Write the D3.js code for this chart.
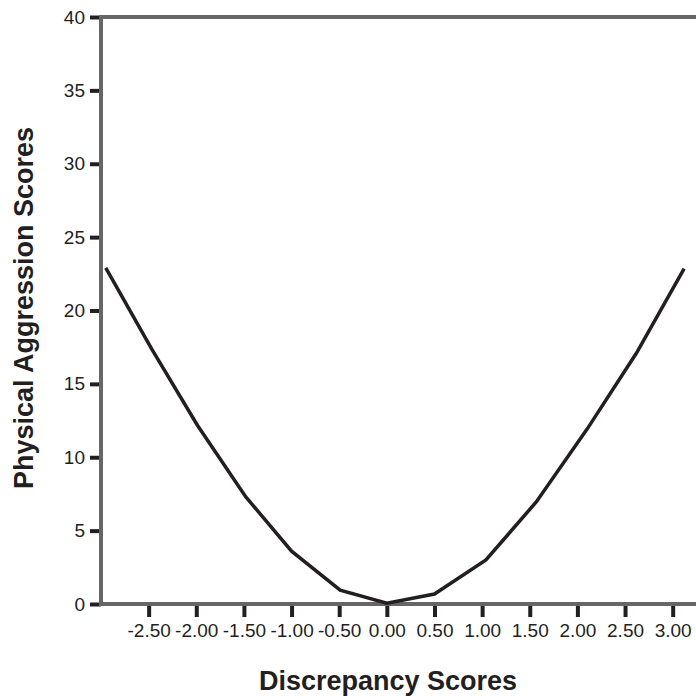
<!DOCTYPE html>
<html><head><meta charset="utf-8">
<script src="https://cdn.jsdelivr.net/npm/d3@7"></script>
<style>body{margin:0;background:#fff}svg{display:block}</style>
</head><body>
<svg id="c" width="696" height="696"></svg>
<script>
const xValues = [-2.95, -2.47, -1.99, -1.48, -1.0, -0.49, 0.0, 0.5, 1.04, 1.57, 2.1, 2.62, 3.12];
const yValues = [22.9, 17.4, 12.2, 7.3, 3.6, 0.95, 0.05, 0.68, 3.0, 6.97, 11.9, 17.1, 22.85];
const xTicks = [-2.5, -2.0, -1.5, -1.0, -0.5, 0.0, 0.5, 1.0, 1.5, 2.0, 2.5, 3.0];
const yTicks = [0, 5, 10, 15, 20, 25, 30, 35, 40];
const xTitle = "Discrepancy Scores";
const yTitle = "Physical Aggression Scores";

const svg = d3.select("#c");
const font = "Liberation Sans, Arial, sans-serif";
const x = d3.scaleLinear().domain([-3, 3.25]).range([101, 696.5]);
const y = d3.scaleLinear().domain([0, 40]).range([604, 17]);

const axisCol = "#666666", tickCol = "#231f20";
const fmt = d => d3.format(".2f")(d).replace("\u2212", "-");

// x axis ticks
const gx = svg.append("g").attr("transform", `translate(0,${y(0)})`)
  .call(d3.axisBottom(x).tickValues(xTicks).tickFormat(fmt).tickSizeOuter(0).tickSizeInner(13).tickPadding(7));
gx.select(".domain").remove();
gx.selectAll("line").attr("stroke", tickCol).attr("stroke-width", 4);
gx.selectAll("text").attr("font-family", font).attr("font-size", 19).attr("fill", "#231f20");

// y axis ticks
const gy = svg.append("g").attr("transform", `translate(${x(-3)},0)`)
  .call(d3.axisLeft(y).tickValues(yTicks).tickSizeOuter(0).tickSizeInner(11).tickPadding(5));
gy.select(".domain").remove();
gy.selectAll("line").attr("stroke", tickCol).attr("stroke-width", 4);
gy.selectAll("text").attr("font-family", font).attr("font-size", 19).attr("fill", "#231f20");

// frame lines
svg.append("line").attr("x1", x(-3)).attr("x2", x(-3)).attr("y1", y(40) - 2).attr("y2", y(0) + 2)
  .attr("stroke", axisCol).attr("stroke-width", 4);
svg.append("line").attr("x1", x(-3) - 2).attr("x2", 696).attr("y1", y(0)).attr("y2", y(0))
  .attr("stroke", axisCol).attr("stroke-width", 4);
svg.append("line").attr("x1", x(-3) - 2).attr("x2", 696).attr("y1", y(40)).attr("y2", y(40))
  .attr("stroke", axisCol).attr("stroke-width", 4);

// curve
const pts = xValues.map((v, i) => [v, yValues[i]]);
svg.append("path").datum(pts)
  .attr("d", d3.line().x(d => x(d[0])).y(d => y(d[1])))
  .attr("fill", "none").attr("stroke", tickCol).attr("stroke-width", 3.5).attr("stroke-linejoin", "miter");

// titles
svg.append("text").attr("x", 388).attr("y", 690).attr("text-anchor", "middle")
  .attr("font-family", font).attr("font-weight", "bold").attr("font-size", 27).attr("fill", "#231f20")
  .text(xTitle);
svg.append("text").attr("transform", "translate(33,308) rotate(-90)").attr("text-anchor", "middle")
  .attr("font-family", font).attr("font-weight", "bold").attr("font-size", 27).attr("fill", "#231f20")
  .text(yTitle);
</script>
</body></html>
